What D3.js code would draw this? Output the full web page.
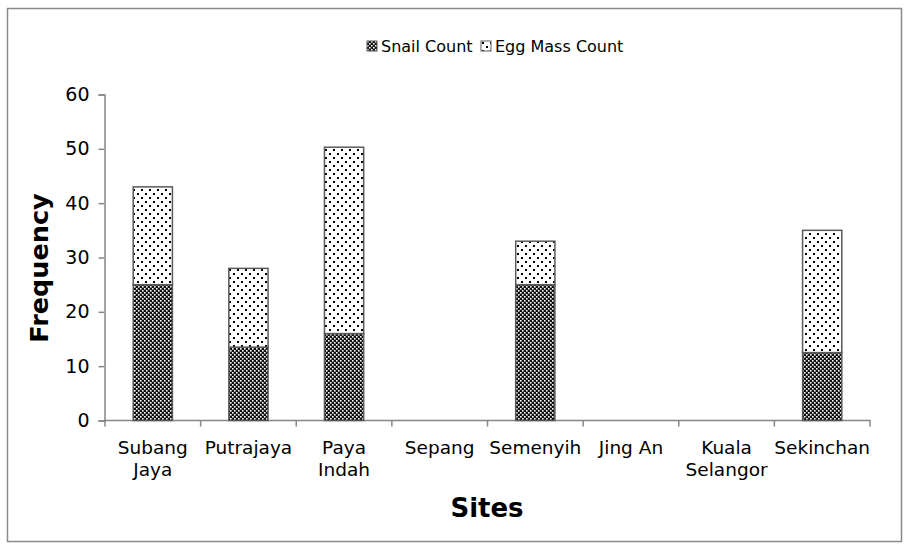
<!DOCTYPE html>
<html>
<head>
<meta charset="utf-8">
<script src="https://cdn.jsdelivr.net/npm/d3@7"></script>
<style>
  body { margin: 0; background: #fff; }
  text { font-family: "DejaVu Sans", sans-serif; fill: #000; }
</style>
</head>
<body>
<div id="chart"></div>
<script>
// values
const sites = ["Subang Jaya", "Putrajaya", "Paya Indah", "Sepang", "Semenyih", "Jing An", "Kuala Selangor", "Sekinchan"];
const siteLines = [["Subang", "Jaya"], ["Putrajaya"], ["Paya", "Indah"], ["Sepang"], ["Semenyih"], ["Jing An"], ["Kuala", "Selangor"], ["Sekinchan"]];
const snailCount = [25, 13.5, 16, 0, 25, 0, 0, 12.5];
const eggMassCount = [18, 14.5, 34.3, 0, 8, 0, 0, 22.5];
const seriesNames = ["Snail Count", "Egg Mass Count"];
const yTicks = [0, 10, 20, 30, 40, 50, 60];

const width = 909, height = 550;
const svg = d3.select("#chart").append("svg")
  .attr("width", width).attr("height", height);

// fill patterns
const defs = svg.append("defs");
const checker = defs.append("pattern").attr("id", "checker")
  .attr("patternUnits", "userSpaceOnUse").attr("width", 4).attr("height", 4);
checker.append("rect").attr("width", 4).attr("height", 4).attr("fill", "#111");
checker.append("rect").attr("x", 0).attr("y", 0).attr("width", 1.6).attr("height", 1.6).attr("fill", "#fff");
checker.append("rect").attr("x", 2).attr("y", 2).attr("width", 1.6).attr("height", 1.6).attr("fill", "#fff");

const dots = defs.append("pattern").attr("id", "dots")
  .attr("patternUnits", "userSpaceOnUse").attr("width", 8).attr("height", 8);
dots.append("rect").attr("width", 8).attr("height", 8).attr("fill", "#fff");
dots.append("rect").attr("x", 1).attr("y", 1).attr("width", 2).attr("height", 2).attr("fill", "#000");
dots.append("rect").attr("x", 5).attr("y", 5).attr("width", 2).attr("height", 2).attr("fill", "#000");

const fills = ["url(#checker)", "url(#dots)"];

// chart border
svg.append("rect").attr("x", 7.5).attr("y", 8.5).attr("width", 894).attr("height", 533)
  .attr("fill", "none").attr("stroke", "#8a8a8a").attr("stroke-width", 1.5);

const x = d3.scaleBand().domain(sites).range([105, 870]).paddingInner(0.59).paddingOuter(0.295);
const y = d3.scaleLinear().domain([0, 60]).range([420.5, 94.5]);

const stacked = d3.stack().keys([0, 1])(sites.map((s, i) => ({site: s, 0: snailCount[i], 1: eggMassCount[i]})));

// axes
const yAxis = svg.append("g").attr("transform", "translate(104.5,0)")
  .call(d3.axisLeft(y).tickValues(yTicks).tickSize(6).tickPadding(9));
yAxis.select(".domain").attr("stroke", "#868686").attr("stroke-width", 1.5);
yAxis.selectAll(".tick line").attr("stroke", "#868686").attr("stroke-width", 1.5);
yAxis.selectAll(".tick text").style("font-size", "19px").style("font-family", "DejaVu Sans");

const bands = sites.map(s => x(s) - x.step() * x.paddingInner() / 2);
bands.push(870);

const xAxis = svg.append("g").attr("transform", "translate(0,420.5)");
xAxis.append("line").attr("x1", 104).attr("x2", 870.5).attr("stroke", "#868686").attr("stroke-width", 1.5);
xAxis.selectAll("line.tk").data(bands).join("line").attr("class", "tk")
  .attr("x1", d => d).attr("x2", d => d).attr("y1", 0).attr("y2", 6)
  .attr("stroke", "#868686").attr("stroke-width", 1.5);

const labels = xAxis.selectAll("text.lbl").data(sites).join("text").attr("class", "lbl")
  .attr("text-anchor", "middle").style("font-size", "18.5px")
  .attr("transform", d => `translate(${x(d) + x.bandwidth() / 2},0)`);
labels.each(function(d, i) {
  const t = d3.select(this);
  siteLines[i].forEach((w, j) => t.append("tspan").attr("x", 0).attr("y", 33 + j * 22).text(w));
});

// bars
svg.append("g").selectAll("g").data(stacked).join("g")
  .attr("fill", (d, i) => fills[i])
  .selectAll("rect").data(d => d.filter(v => v[1] - v[0] > 0)).join("rect")
  .attr("x", d => x(d.data.site))
  .attr("y", d => y(d[1]))
  .attr("width", x.bandwidth())
  .attr("height", d => y(d[0]) - y(d[1]))
  .attr("stroke", "#5a5a5a").attr("stroke-width", 1.5);

// axis titles
svg.append("text").attr("transform", "translate(48,268) rotate(-90)")
  .attr("text-anchor", "middle").style("font-size", "25.5px").style("font-weight", "bold")
  .text("Frequency");
svg.append("text").attr("x", 487).attr("y", 517)
  .attr("text-anchor", "middle").style("font-size", "26px").style("font-weight", "bold")
  .text("Sites");

// legend
const legend = svg.append("g");
const legendX = [367, 481];
seriesNames.forEach((n, i) => {
  const g = legend.append("g").attr("transform", `translate(${legendX[i]},41)`);
  g.append("rect").attr("width", 10).attr("height", 10).attr("fill", fills[i])
    .attr("stroke", "#5a5a5a").attr("stroke-width", 1);
  g.append("text").attr("x", 14).attr("y", 11).style("font-size", "16px").text(n);
});
</script>
</body>
</html>
